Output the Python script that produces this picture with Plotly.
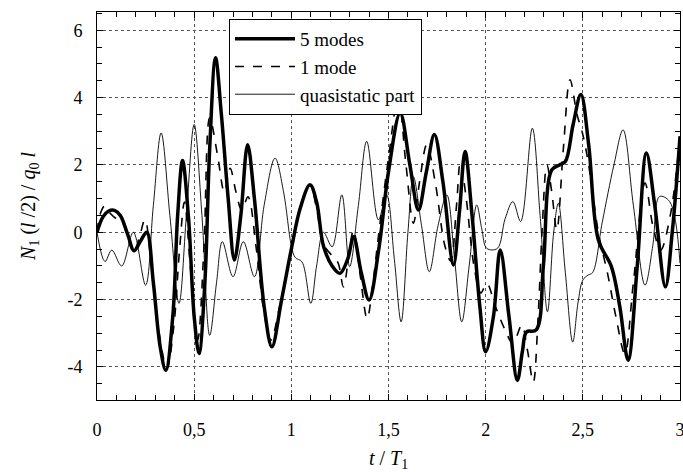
import plotly.graph_objects as go

# ---- data ----
t_5 = [0, 0.03, 0.06, 0.09, 0.12, 0.16, 0.19, 0.225, 0.256, 0.29, 0.325, 0.354, 0.39, 0.415, 0.44,
       0.47, 0.50, 0.525, 0.555, 0.58, 0.61, 0.64, 0.675, 0.707, 0.74, 0.775, 0.81, 0.86, 0.90, 0.95,
       1.0, 1.045, 1.096, 1.13, 1.165, 1.21, 1.25, 1.29, 1.32, 1.36, 1.40, 1.45, 1.50, 1.56, 1.61,
       1.654, 1.695, 1.736, 1.78, 1.834, 1.865, 1.894, 1.93, 1.97, 2.0, 2.04, 2.075, 2.12, 2.163,
       2.19, 2.21, 2.26, 2.297, 2.34, 2.38, 2.41, 2.45, 2.49, 2.53, 2.58, 2.647, 2.69, 2.733, 2.78,
       2.827, 2.87, 2.925, 2.96, 3.0]
n_5 = [0, 0.45, 0.63, 0.65, 0.5, -0.1, -0.55, -0.25, 0, -1.5, -3.4, -4.1, -2.5, 0.5, 2.13,
       0.5, -2.5, -3.6, -1.5, 2.5, 5.18, 3.5, 1.0, -0.82, 0.5, 2.6, 1.0, -2.2, -3.4, -2.0,
       -0.5, 0.7, 1.41, 0.9, -0.4, -1.0, -1.22, -0.8, -0.13, -1.2, -2.01, -0.5, 1.8, 3.54, 2.0,
       0.66, 1.8, 2.9, 1.5, -0.97, 0.6, 2.4, 0.5, -2.2, -3.55, -2.5, -0.53, -2.5, -4.4,
       -3.5, -2.96, -2.9, -1.0, 1.85, 2.0, 2.1, 3.2, 4.09, 2.6, -0.23, -1.02, -2.2, -3.8, -1.0,
       2.35, 0.8, -1.62, 0, 2.85]

t_1 = [0, 0.02, 0.04, 0.07, 0.10, 0.13, 0.16, 0.19, 0.22, 0.247, 0.28, 0.32, 0.36, 0.395, 0.425,
       0.45, 0.48, 0.518, 0.55, 0.58, 0.62, 0.655, 0.685, 0.715, 0.745, 0.777, 0.82, 0.86, 0.895,
       0.94, 1.0, 1.045, 1.096, 1.13, 1.165, 1.21, 1.24, 1.268, 1.30, 1.32, 1.355, 1.39, 1.42,
       1.448, 1.50, 1.55, 1.59, 1.628, 1.66, 1.697, 1.74, 1.79, 1.82, 1.85, 1.87, 1.90, 1.94,
       1.975, 2.006, 2.05, 2.10, 2.14, 2.186, 2.215, 2.245, 2.27, 2.29, 2.315, 2.34, 2.366, 2.40,
       2.434, 2.47, 2.50, 2.53, 2.58, 2.63, 2.67, 2.716, 2.76, 2.82, 2.86, 2.90, 2.95, 3.0]
n_1 = [0, 0.6, 0.78, 0.55, 0.4, 0.3, -0.2, -0.6, -0.1, 0.37, -1.0, -3.0, -4.05, -2.8, -0.5,
       0.9, -1.0, -3.2, -0.5, 3.4, 2.3, 1.2, 1.9, 1.2, 0.66, 1.05, -0.5, -2.4, -3.2,
       -2.2, -0.6, 0.7, 1.4, 0.7, -0.35, -0.7, -0.9, -1.62, -0.5, 0.07, -1.3, -2.56, -1.5,
       -0.13, 2.2, 3.99, 2.0, 0.27, 1.5, 2.6, 1.5, -0.4, -0.85, 0.8, 2.1, 1.0, -1.0,
       -1.8, -1.52, -2.2, -2.9, -3.3, -2.76, -3.5, -4.45, -2.5, 0, 2.0, 1.2, 0.07, 2.5,
       4.53, 3.5, 2.9, 2.0, 0, -1.3, -2.5, -3.6, -1.5, 1.46, 0.2, -0.53, 0.5, 2.85]

t_q = [0, 0.041, 0.076, 0.127, 0.187, 0.25, 0.29, 0.33, 0.375, 0.422, 0.46, 0.50, 0.54, 0.58,
       0.615, 0.645, 0.70, 0.753, 0.81, 0.86, 0.916, 0.96, 1.0, 1.02, 1.055, 1.1, 1.13, 1.165,
       1.21, 1.26, 1.30, 1.345, 1.388, 1.448, 1.49, 1.53, 1.565, 1.60, 1.628, 1.67, 1.71, 1.755,
       1.80, 1.84, 1.877, 1.915, 1.954, 1.98, 2.006, 2.06, 2.10, 2.14, 2.18, 2.24, 2.28, 2.318,
       2.35, 2.374, 2.41, 2.448, 2.475, 2.50, 2.527, 2.55, 2.60, 2.66, 2.707, 2.76, 2.82, 2.86,
       2.895, 2.947, 3.0]
n_q = [0, -0.87, -0.53, -1.0, 0, -1.57, 0.8, 2.95, 0.5, -2.11, 0.5, 3.2, 0.5, -3.06,
       -1.5, -0.28, -1.32, -0.28, -1.32, 0.8, 2.2, 1.2, -0.4, -0.75, -0.88, -2.11, -1.0, 0,
       -0.43, 1.11, -1.02, 0.8, 2.7, 0.37, 1.11, -0.8, -2.66, 0, 1.65, 0.2, -1.17, 0.2,
       1.11, -0.8, -2.66, -1.0, 0.81, 0.1, -0.48, -0.48, 0.4, 0.91, 0.32, 3.09, 0.5, -2.36,
       0, 0.86, -1.2, -3.26, -2.1, -1.42, -1.27, -1.2, 0.3, 2.0, 3.04, 0.8, -1.57, -0.4,
       1.06, 0.91, -0.92]

x_tickvals = [0, 0.5, 1, 1.5, 2, 2.5, 3]
x_ticktext = ["0", "0,5", "1", "1,5", "2", "2,5", "3"]
y_tickvals = [-4, -2, 0, 2, 4, 6]
y_ticktext = ["-4", "-2", "0", "2", "4", "6"]

FONT = "Liberation Serif"

fig = go.Figure()
fig.add_trace(go.Scatter(x=t_5, y=n_5, mode="lines", name="5 modes",
                         line=dict(color="black", width=3.5, shape="spline", smoothing=1.0)))
fig.add_trace(go.Scatter(x=t_1, y=n_1, mode="lines", name="1 mode",
                         line=dict(color="black", width=1.6, dash="dash", shape="spline", smoothing=1.0)))
fig.add_trace(go.Scatter(x=t_q, y=n_q, mode="lines", name="quasistatic part",
                         line=dict(color="black", width=0.9, shape="spline", smoothing=1.0)))

axis_common = dict(
    showline=True, linecolor="black", linewidth=1, mirror="ticks",
    ticks="inside", ticklen=6, tickcolor="black",
    showgrid=True, gridcolor="#555555", griddash="dot", gridwidth=1,
    zeroline=False, automargin=False, ticklabeloverflow="allow",
    tickfont=dict(family=FONT, size=18, color="black"),
)

fig.update_xaxes(**axis_common, range=[0, 3], tickmode="array",
                 tickvals=x_tickvals, ticktext=x_ticktext, ticklabelstandoff=13,
                 minor=dict(dtick=0.1, tick0=0, ticks="inside", ticklen=5, tickcolor="black", showgrid=False),
                 title=dict(text="<i>t</i> / <i>T</i><sub>1</sub>",
                            font=dict(family=FONT, size=20, color="black"), standoff=13))
fig.update_yaxes(**axis_common, range=[-4.98, 6.54], tickmode="array",
                 tickvals=y_tickvals, ticktext=y_ticktext, ticklabelstandoff=10,
                 minor=dict(dtick=0.5, tick0=0, ticks="inside", ticklen=5, tickcolor="black", showgrid=False),
                 title=dict(text="<i>N</i><sub>1</sub> (<i>l</i> /2) / <i>q</i><sub>0</sub> <i>l</i>",
                            font=dict(family=FONT, size=20, color="black"), standoff=26))

fig.update_layout(
    width=683, height=472,
    margin=dict(l=97, r=3, t=12, b=72),
    paper_bgcolor="white", plot_bgcolor="white",
    showlegend=True,
    legend=dict(x=0.2264, y=0.982, xanchor="left", yanchor="top",
                bgcolor="white", bordercolor="black", borderwidth=1,
                font=dict(family=FONT, size=19, color="black"),
                itemwidth=60, tracegroupgap=0),
)

fig.write_html("out.html", config={"displayModeBar": False},
               post_script="document.body.style.margin='0px';")
